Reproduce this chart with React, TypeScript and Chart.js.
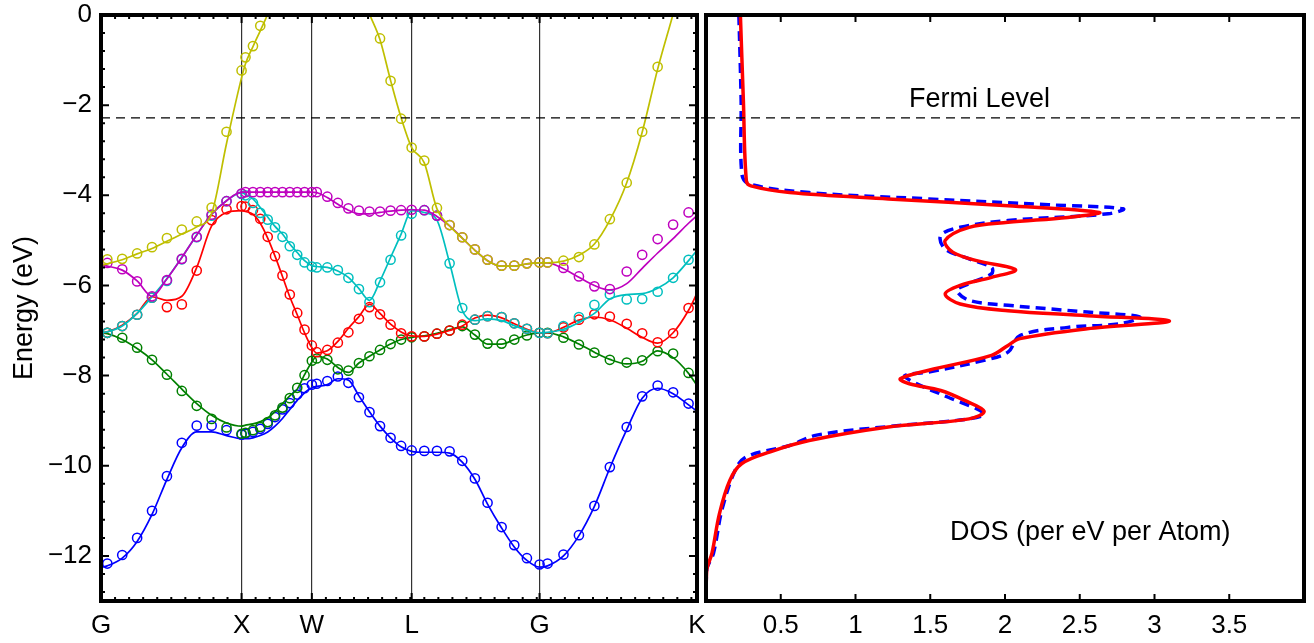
import React, { useEffect, useRef } from 'react';
import { Chart, registerables } from 'chart.js';

Chart.register(...registerables);

const FONT = '"Liberation Sans", Arial, Helvetica, sans-serif';

// ---- Band structure (left panel) ----
const kLabels = ['G', 'X', 'W', 'L', 'G', 'K'];
const kTicks = [0, 1, 1.5, 2.21, 3.12, 4.24];
const eTicks = [0, -2, -4, -6, -8, -10, -12];
const fermiLevel = -2.28;

// k-points of the computed (circle) data
const dotK = [
  0.045, 0.151, 0.257, 0.363, 0.469, 0.575, 0.681, 0.787, 0.893, 1.0,
  1.028, 1.081, 1.133, 1.186, 1.238, 1.291, 1.343, 1.396, 1.448, 1.5,
  1.535, 1.61, 1.685, 1.76, 1.835, 1.91, 1.985, 2.06, 2.135, 2.21,
  2.3, 2.39, 2.48, 2.57, 2.66, 2.75, 2.85, 2.94, 3.03, 3.12,
  3.177, 3.29, 3.4, 3.51, 3.62, 3.74, 3.85, 3.96, 4.07, 4.18,
];
// k-points of the fitted (solid) curves
const lineK = [0, ...dotK, 4.24];

const blueDots = [
  -12.17, -11.98, -11.6, -11.0, -10.23, -9.49, -9.11, -9.11, -9.21, -9.31,
  -9.29, -9.25, -9.18, -9.07, -8.92, -8.75, -8.61, -8.42, -8.28, -8.2,
  -8.18, -8.12, -8.02, -8.16, -8.48, -8.81, -9.12, -9.38, -9.56, -9.66,
  -9.67, -9.67, -9.68, -9.89, -10.28, -10.82, -11.36, -11.76, -12.05, -12.19,
  -12.17, -11.97, -11.54, -10.89, -10.03, -9.14, -8.46, -8.22, -8.37, -8.62,
];
const blueLine = [
  -12.25,
  -12.22, -12.05, -11.68, -11.08, -10.3, -9.6, -9.25, -9.25, -9.33, -9.4,
  -9.4, -9.38, -9.33, -9.25, -9.12, -8.95, -8.75, -8.55, -8.38, -8.27,
  -8.24, -8.2, -8.07, -8.1, -8.45, -8.8, -9.12, -9.38, -9.58, -9.68,
  -9.7, -9.7, -9.72, -9.92, -10.3, -10.85, -11.38, -11.8, -12.1, -12.25,
  -12.22, -12.0, -11.55, -10.9, -10.05, -9.2, -8.5, -8.28, -8.4, -8.65,
  -8.79,
];

const greenDots = [
  -7.05, -7.16, -7.38, -7.65, -7.98, -8.34, -8.67, -8.96, -9.15, -9.29,
  -9.27, -9.21, -9.14, -9.03, -8.88, -8.71, -8.5, -8.27, -7.99, -7.67,
  -7.62, -7.65, -7.86, -7.89, -7.72, -7.57, -7.43, -7.3, -7.2, -7.15,
  -7.13, -7.07, -7.0, -6.9, -7.09, -7.29, -7.29, -7.2, -7.11, -7.05,
  -7.05, -7.16, -7.31, -7.49, -7.65, -7.71, -7.66, -7.46, -7.51, -7.94,
];
const greenLine = [
  -7.05,
  -7.07, -7.2, -7.4, -7.65, -7.97, -8.3, -8.62, -8.88, -9.05, -9.12,
  -9.1, -9.07, -9.02, -8.94, -8.8, -8.62, -8.45, -8.3, -7.98, -7.7,
  -7.57, -7.63, -7.82, -7.93, -7.72, -7.57, -7.43, -7.3, -7.2, -7.15,
  -7.12, -7.06, -6.98, -6.92, -7.1, -7.3, -7.3, -7.2, -7.1, -7.05,
  -7.05, -7.14, -7.3, -7.48, -7.64, -7.74, -7.68, -7.45, -7.6, -7.95,
  -8.22,
];

const redDots = [
  -7.05, -6.9, -6.65, -6.27, -6.48, -6.42, -5.67, -4.55, -4.31, -4.24,
  -4.25, -4.33, -4.52, -4.92, -5.35, -5.78, -6.2, -6.61, -6.98, -7.33,
  -7.48, -7.43, -7.27, -7.04, -6.74, -6.48, -6.64, -6.87, -7.06, -7.13,
  -7.13, -7.07, -7.0, -6.87, -6.76, -6.68, -6.7, -6.84, -6.96, -7.05,
  -7.06, -6.93, -6.76, -6.64, -6.69, -6.85, -7.06, -7.26, -7.06, -6.5,
];
const redLine = [
  -7.05,
  -7.03, -6.88, -6.62, -6.25, -6.33, -6.24, -5.6, -4.68, -4.38, -4.34,
  -4.36, -4.42, -4.62, -4.95, -5.35, -5.8, -6.25, -6.65, -7.05, -7.38,
  -7.5, -7.45, -7.24, -6.95, -6.69, -6.42, -6.62, -6.86, -7.03, -7.12,
  -7.13, -7.08, -7.0, -6.9, -6.72, -6.66, -6.72, -6.85, -6.97, -7.05,
  -7.05, -6.93, -6.77, -6.7, -6.76, -6.95, -7.15, -7.28, -7.05, -6.55,
  -6.17,
];

const cyanDots = [
  -7.05, -6.9, -6.65, -6.27, -5.9, -5.42, -4.93, -4.45, -4.13, -3.97,
  -4.0, -4.17, -4.39, -4.54, -4.71, -4.92, -5.13, -5.32, -5.49, -5.58,
  -5.6, -5.6, -5.66, -5.83, -6.08, -6.37, -5.93, -5.43, -4.89, -4.41,
  -4.33, -4.45, -5.51, -6.5, -6.76, -6.68, -6.7, -6.84, -6.96, -7.05,
  -7.06, -6.9, -6.7, -6.43, -6.2, -6.31, -6.3, -6.14, -5.83, -5.43,
];
const cyanLine = [
  -7.05,
  -7.03, -6.9, -6.62, -6.25, -5.85, -5.38, -4.88, -4.42, -4.12, -3.94,
  -3.98, -4.08, -4.27, -4.48, -4.69, -4.86, -5.08, -5.27, -5.45, -5.56,
  -5.58, -5.6, -5.68, -5.82, -6.07, -6.33, -5.9, -5.38, -4.86, -4.34,
  -4.38, -4.55, -5.5, -6.55, -6.78, -6.74, -6.78, -6.89, -6.99, -7.05,
  -7.04, -6.97, -6.82, -6.62, -6.3, -6.2, -6.18, -6.06, -5.83, -5.45,
  -5.22,
];

const magentaDots = [
  -5.5, -5.64, -5.91, -6.24, -5.88, -5.41, -4.92, -4.43, -4.13, -3.96,
  -3.93, -3.93, -3.93, -3.93, -3.93, -3.93, -3.93, -3.93, -3.93, -3.93,
  -3.93, -4.03, -4.17, -4.29, -4.34, -4.36, -4.36, -4.34, -4.33, -4.32,
  -4.33, -4.45, -4.66, -4.93, -5.2, -5.43, -5.56, -5.56, -5.51, -5.49,
  -5.49, -5.61, -5.8, -6.02, -6.08, -5.69, -5.32, -4.97, -4.65, -4.38,
];
const magentaLine = [
  -5.54,
  -5.57, -5.66, -5.9, -6.24, -5.85, -5.38, -4.88, -4.42, -4.12, -3.93,
  -3.93, -3.93, -3.93, -3.93, -3.93, -3.93, -3.93, -3.93, -3.93, -3.93,
  -3.94, -4.05, -4.2, -4.33, -4.41, -4.41, -4.38, -4.35, -4.33, -4.32,
  -4.33, -4.47, -4.68, -4.95, -5.22, -5.45, -5.57, -5.57, -5.52, -5.5,
  -5.5, -5.63, -5.82, -6.0, -6.1, -5.96, -5.62, -5.28, -4.96, -4.62,
  -4.45,
];

const yellowDots: (number | null)[] = [
  -5.42, -5.41, -5.29, -5.15, -4.95, -4.76, -4.58, -4.27, -2.59, -1.23,
  -0.94, -0.69, -0.24, null, null, null, null, null, null, null,
  null, null, null, null, null, null, -0.52, -1.46, -2.3, -2.94,
  -3.23, -4.28, -4.66, -4.93, -5.2, -5.43, -5.56, -5.56, -5.51, -5.49,
  -5.49, -5.45, -5.37, -5.09, -4.53, -3.72, -2.59, -1.15, null, null,
];
const yellowLine = [
  -5.55,
  -5.52, -5.43, -5.3, -5.18, -5.02, -4.86, -4.7, -4.4, -2.85, -1.39,
  -1.08, -0.7, -0.35, 0.02, 0.45, 0.85, 1.25, 1.65, 2.05, 2.45,
  4.0, 3.1, 2.2, 1.35, 0.62, 0.02, -0.55, -1.45, -2.28, -2.94,
  -3.28, -4.3, -4.68, -4.95, -5.22, -5.45, -5.57, -5.57, -5.52, -5.5,
  -5.5, -5.46, -5.33, -5.08, -4.55, -3.72, -2.6, -1.2, 0.02, 1.3,
  2.0,
];

// ---- Density of states (right panel) ----
const dosTicks = [0.5, 1, 1.5, 2, 2.5, 3, 3.5];
const dosRedE = [
  0, -1.9, -3.68, -3.79, -3.94, -4.08, -4.23, -4.38, -4.49, -4.6, -4.71, -5.0, -5.26, -5.45,
  -5.65, -5.82, -6.0, -6.19, -6.41, -6.56, -6.67, -6.79, -6.96, -7.18, -7.33, -7.55, -7.88,
  -8.07, -8.18, -8.33, -8.55, -8.79, -8.96, -9.14, -9.44, -9.69, -9.95, -10.32, -11.06,
  -11.94, -12.31, -13,
];
const dosRed = [
  0.23, 0.25, 0.27, 0.3, 0.56, 1.22, 2.02, 2.63, 2.42, 2.02, 1.76, 1.6, 1.65, 1.81,
  2.07, 1.91, 1.7, 1.6, 1.7, 2.02, 2.55, 3.1, 2.55, 2.1, 2.02, 1.91, 1.49,
  1.3, 1.36, 1.57, 1.73, 1.86, 1.76, 1.22, 0.69, 0.43, 0.24, 0.16, 0.09,
  0.04, 0.005, 0,
];
const dosBlueE = [
  0, -1.9, -3.53, -3.75, -3.94, -4.08, -4.21, -4.3, -4.41, -4.56, -4.71, -4.89, -5.19, -5.41,
  -5.6, -5.74, -5.96, -6.11, -6.33, -6.44, -6.59, -6.7, -6.85, -6.93, -7.11, -7.48, -7.66,
  -7.92, -8.0, -8.18, -8.48, -8.84, -8.96, -9.13, -9.32, -9.55, -9.77, -10.0, -10.93,
  -11.94, -12.3, -13,
];
const dosBlue = [
  0.22, 0.235, 0.24, 0.29, 0.69, 1.49, 2.29, 2.79, 2.69, 2.02, 1.7, 1.57, 1.6, 1.76,
  1.91, 1.91, 1.76, 1.68, 1.76, 2.02, 2.55, 2.9, 2.77, 2.42, 2.1, 2.02, 1.86,
  1.49, 1.33, 1.41, 1.62, 1.86, 1.76, 1.22, 0.74, 0.56, 0.29, 0.21, 0.11,
  0.05, 0.005, 0,
];
const fermiLabelPos = { dos: 1.83, e: -2.05 };
const dosLabelPos = { dos: 2.57, e: -11.64 };

const pts = (xs: number[], ys: (number | null)[]) =>
  xs.map((x, i) => ({ x, y: ys[i] })).filter((p) => p.y !== null) as { x: number; y: number }[];

const BANDS = [
  { color: '#bfbf00', line: yellowLine, dots: yellowDots },
  { color: '#bf00bf', line: magentaLine, dots: magentaDots },
  { color: '#00bfbf', line: cyanLine, dots: cyanDots },
  { color: '#ff0000', line: redLine, dots: redDots },
  { color: '#008000', line: greenLine, dots: greenDots },
  { color: '#0000ff', line: blueLine, dots: blueDots },
];

const drawFermi = (chart: any, extendRight: number) => {
  const { ctx, chartArea: a, scales } = chart;
  const yf = scales.y.getPixelForValue(fermiLevel);
  ctx.save();
  ctx.strokeStyle = '#000';
  ctx.lineWidth = 1.2;
  ctx.setLineDash([9, 6]);
  ctx.beginPath();
  ctx.moveTo(a.left, yf);
  ctx.lineTo(a.right + extendRight, yf);
  ctx.stroke();
  ctx.restore();
};

const bandPlugin = {
  id: 'bandFrame',
  afterDatasetsDraw(chart: any) {
    const { ctx, chartArea: a, scales } = chart;
    const { x, y } = scales;
    drawFermi(chart, 9);
    ctx.save();
    ctx.strokeStyle = '#000';
    ctx.lineWidth = 2;
    ctx.beginPath();
    for (let i = 0; i <= 32; i++) {
      const py = y.getPixelForValue(-i * 0.4);
      const len = i % 5 === 0 ? 8 : 4;
      ctx.moveTo(a.left, py);
      ctx.lineTo(a.left + len, py);
      ctx.moveTo(a.right, py);
      ctx.lineTo(a.right - len, py);
    }
    for (let i = 1; i <= 42; i++) {
      const px = x.getPixelForValue(i * 0.1);
      ctx.moveTo(px, a.top);
      ctx.lineTo(px, a.top + 4);
      ctx.moveTo(px, a.bottom);
      ctx.lineTo(px, a.bottom - 4);
    }
    kTicks.forEach((k) => {
      const px = x.getPixelForValue(k);
      ctx.moveTo(px, a.top);
      ctx.lineTo(px, a.top + 8);
      ctx.moveTo(px, a.bottom);
      ctx.lineTo(px, a.bottom - 8);
    });
    ctx.stroke();
    ctx.lineWidth = 4;
    ctx.strokeRect(a.left, a.top, a.right - a.left, a.bottom - a.top);
    ctx.fillStyle = '#000';
    ctx.font = `27px ${FONT}`;
    ctx.translate(25, (a.top + a.bottom) / 2);
    ctx.rotate(-Math.PI / 2);
    ctx.textAlign = 'center';
    ctx.textBaseline = 'middle';
    ctx.fillText('Energy (eV)', 0, 0);
    ctx.restore();
  },
};

const dosPlugin = {
  id: 'dosFrame',
  afterDatasetsDraw(chart: any) {
    const { ctx, chartArea: a, scales } = chart;
    const { x, y } = scales;
    drawFermi(chart, 0);
    ctx.save();
    ctx.strokeStyle = '#000';
    ctx.lineWidth = 2;
    ctx.beginPath();
    dosTicks.forEach((d) => {
      const px = x.getPixelForValue(d);
      ctx.moveTo(px, a.top);
      ctx.lineTo(px, a.top + 7);
      ctx.moveTo(px, a.bottom);
      ctx.lineTo(px, a.bottom - 7);
    });
    ctx.stroke();
    ctx.lineWidth = 4;
    ctx.strokeRect(a.left, a.top, a.right - a.left, a.bottom - a.top);
    ctx.fillStyle = '#000';
    ctx.font = `27px ${FONT}`;
    ctx.textAlign = 'center';
    ctx.textBaseline = 'alphabetic';
    ctx.fillText('Fermi Level', x.getPixelForValue(fermiLabelPos.dos), y.getPixelForValue(fermiLabelPos.e));
    ctx.fillText('DOS (per eV per Atom)', x.getPixelForValue(dosLabelPos.dos), y.getPixelForValue(dosLabelPos.e));
    ctx.restore();
  },
};

export default function App() {
  const leftRef = useRef<HTMLCanvasElement>(null);
  const rightRef = useRef<HTMLCanvasElement>(null);

  useEffect(() => {
    const datasets: any[] = [];
    BANDS.forEach((b, i) => {
      datasets.push({
        data: pts(lineK, b.line),
        showLine: true,
        borderColor: b.color,
        borderWidth: 1.7,
        pointRadius: 0,
        cubicInterpolationMode: 'monotone',
        order: i * 2 + 2,
      });
      datasets.push({
        data: pts(dotK, b.dots),
        showLine: false,
        pointRadius: 4.6,
        pointBorderWidth: 1.5,
        pointBorderColor: b.color,
        pointBackgroundColor: 'rgba(0,0,0,0)',
        order: i * 2 + 1,
      });
    });

    const tickFont = { family: FONT, size: 26 };

    const left = new Chart(leftRef.current as HTMLCanvasElement, {
      type: 'scatter',
      data: { datasets },
      options: {
        responsive: false,
        animation: false,
        devicePixelRatio: 1,
        events: [],
        layout: { padding: { left: 0, right: 23, top: 15, bottom: 0 } },
        plugins: { legend: { display: false }, tooltip: { enabled: false } },
        scales: {
          x: {
            type: 'linear',
            min: 0,
            max: kTicks[kTicks.length - 1],
            afterBuildTicks: (s: any) => {
              s.ticks = kTicks.map((v) => ({ value: v }));
            },
            afterFit: (s: any) => {
              s.height = 42;
              s.paddingLeft = 0;
              s.paddingRight = 0;
            },
            ticks: {
              autoSkip: false,
              maxRotation: 0,
              padding: 9,
              color: '#000',
              font: tickFont,
              callback: (_v: any, i: number) => kLabels[i],
            },
            grid: {
              drawTicks: false,
              lineWidth: 1.2,
              color: (c: any) =>
                c.index === 0 || c.index === kTicks.length - 1 ? 'rgba(0,0,0,0)' : '#333',
            },
            border: { display: false },
          },
          y: {
            type: 'linear',
            min: -13,
            max: 0,
            afterBuildTicks: (s: any) => {
              s.ticks = eTicks.map((v) => ({ value: v }));
            },
            afterFit: (s: any) => {
              s.width = 101;
              s.paddingTop = 0;
              s.paddingBottom = 0;
            },
            ticks: {
              padding: 9,
              color: '#000',
              font: tickFont,
              callback: (v: any) => (v < 0 ? '\u2212' + String(-v) : String(v)),
            },
            grid: { display: false, drawTicks: false },
            border: { display: false },
          },
        },
      },
      plugins: [bandPlugin],
    } as any);

    const right = new Chart(rightRef.current as HTMLCanvasElement, {
      type: 'scatter',
      data: {
        datasets: [
          {
            data: pts(dosRed, dosRedE),
            showLine: true,
            borderColor: '#ff0000',
            borderWidth: 3.5,
            pointRadius: 0,
            tension: 0.35,
            order: 1,
          },
          {
            data: pts(dosBlue, dosBlueE),
            showLine: true,
            borderColor: '#0000ff',
            borderWidth: 3.5,
            borderDash: [10, 6],
            pointRadius: 0,
            tension: 0.35,
            order: 2,
          },
        ],
      },
      options: {
        responsive: false,
        animation: false,
        devicePixelRatio: 1,
        events: [],
        layout: { padding: { left: 16, right: 10, top: 15, bottom: 0 } },
        plugins: { legend: { display: false }, tooltip: { enabled: false } },
        scales: {
          x: {
            type: 'linear',
            min: 0,
            max: 4,
            afterBuildTicks: (s: any) => {
              s.ticks = dosTicks.map((v) => ({ value: v }));
            },
            afterFit: (s: any) => {
              s.height = 42;
              s.paddingLeft = 0;
              s.paddingRight = 0;
            },
            ticks: {
              autoSkip: false,
              maxRotation: 0,
              padding: 9,
              color: '#000',
              font: tickFont,
              callback: (v: any) => String(v),
            },
            grid: { display: false, drawTicks: false },
            border: { display: false },
          },
          y: {
            type: 'linear',
            display: false,
            min: -13,
            max: 0,
          },
        },
      },
      plugins: [dosPlugin],
    } as any);

    return () => {
      left.destroy();
      right.destroy();
    };
  }, []);

  return (
    <div
      style={{
        position: 'absolute',
        left: 0,
        top: 0,
        width: 1314,
        height: 643,
        background: '#fff',
        overflow: 'hidden',
      }}
    >
      <canvas ref={leftRef} width={720} height={643} style={{ position: 'absolute', left: 0, top: 0 }} />
      <canvas ref={rightRef} width={624} height={643} style={{ position: 'absolute', left: 690, top: 0 }} />
    </div>
  );
}
